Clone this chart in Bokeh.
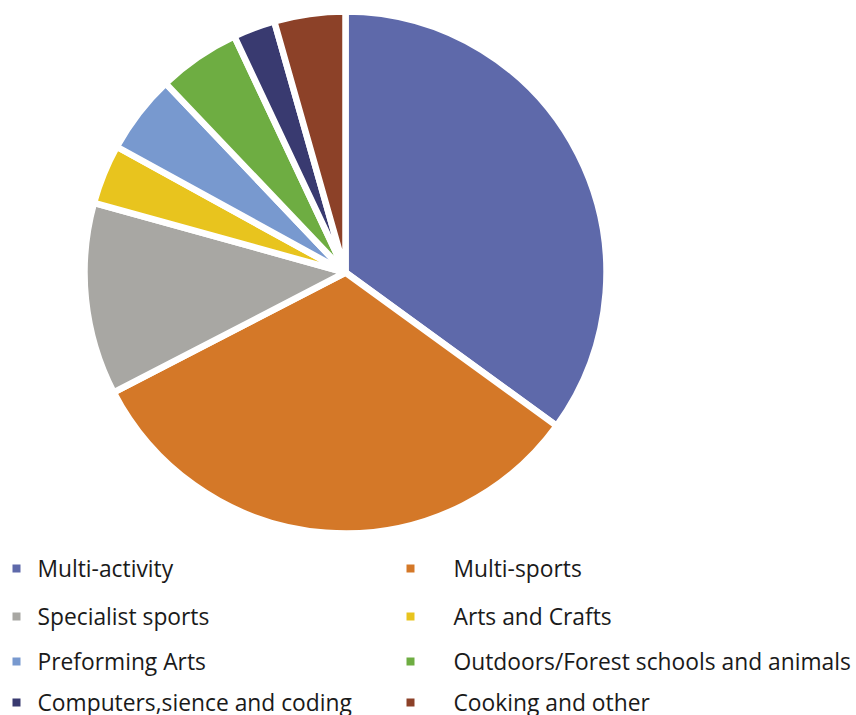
import numpy as np
from bokeh.plotting import figure
from bokeh.models import Range1d, ColumnDataSource
from bokeh.core.properties import value
from bokeh.embed import file_html
from bokeh.resources import INLINE

categories = ["Multi-activity", "Multi-sports", "Specialist sports", "Arts and Crafts",
              "Preforming Arts", "Outdoors/Forest schools and animals",
              "Computers,sience and coding", "Cooking and other"]
shares = [35.0, 32.4, 11.9, 3.7, 4.9, 5.1, 2.6, 4.4]
colors = ["#5E69AA", "#D47828", "#A8A7A3", "#E8C41E", "#7899CF", "#6EAD42", "#393A70", "#8C4128"]

W, H = 856, 715
p = figure(width=W, height=H, output_backend="svg", toolbar_location=None,
           x_range=Range1d(0, W), y_range=Range1d(0, H), min_border=0)
p.axis.visible = False
p.grid.visible = False
p.outline_line_color = None
p.background_fill_color = "white"
p.border_fill_color = "white"

vals = np.array(shares, dtype=float)
frac = vals / vals.sum()
cum = np.concatenate([[0], np.cumsum(frac)])
start = np.pi / 2 - 2 * np.pi * cum[:-1]
end = np.pi / 2 - 2 * np.pi * cum[1:]

src = ColumnDataSource(dict(start=start, end=end, color=colors, cat=categories))
cx, cy, r = 345, H - 272, 261
p.wedge(x=cx, y=cy, radius=r, start_angle="start", end_angle="end", direction="clock",
        fill_color="color", line_color="white", line_width=6.5, source=src)

# legend: two columns, four rows
col_x = [16, 410]
text_x = [37, 453]
row_y = [568, 616, 661, 702]
lx, ly, tx = [], [], []
for i in range(len(categories)):
    row, col = divmod(i, 2)
    lx.append(col_x[col])
    tx.append(text_x[col])
    ly.append(H - row_y[row])
lsrc = ColumnDataSource(dict(x=lx, y=ly, tx=tx, color=colors, cat=categories))
p.scatter(x="x", y="y", marker="square", size=8, fill_color="color", line_color=None,
          source=lsrc)
p.text(x="tx", y="y", text="cat", text_font=value("Open Sans"), text_font_size="22.8px",
       text_baseline="middle", text_align="left", text_color="#1a1a1a", source=lsrc)

open("out.html", "w").write(file_html(p, INLINE))
